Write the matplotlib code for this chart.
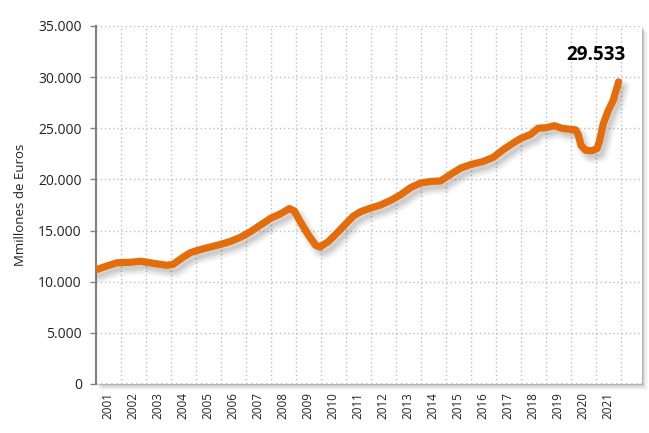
import matplotlib
matplotlib.use("Agg")
import matplotlib.pyplot as plt
import matplotlib.patheffects as pe
from matplotlib.patches import Rectangle
from matplotlib.ticker import FuncFormatter, MultipleLocator

# ---- data (decimal year, millions of euros) ----
years = [2001.0, 2001.4, 2001.85, 2002.4, 2002.8, 2003.3, 2003.85, 2004.1, 2004.5, 2004.8,
         2005.2, 2005.6, 2006.0, 2006.4, 2006.8, 2007.2, 2007.6, 2008.0, 2008.4, 2008.75,
         2008.95, 2009.2, 2009.5, 2009.8, 2009.97, 2010.3, 2010.65, 2011.0, 2011.3, 2011.6,
         2012.0, 2012.4, 2012.8, 2013.2, 2013.6, 2014.0, 2014.4, 2014.8, 2015.2, 2015.6,
         2016.0, 2016.5, 2016.9, 2017.3, 2017.7, 2018.0, 2018.4, 2018.7, 2019.0, 2019.35,
         2019.65, 2019.95, 2020.2, 2020.3, 2020.42, 2020.6, 2020.85, 2021.05, 2021.15, 2021.3,
         2021.5, 2021.7, 2021.92]
values = [11150, 11500, 11850, 11900, 12000, 11800, 11600, 11700, 12400, 12850,
          13150, 13400, 13650, 13950, 14350, 14900, 15550, 16200, 16650, 17150,
          16900, 15800, 14600, 13550, 13400, 13900, 14750, 15650, 16400, 16850,
          17200, 17500, 17950, 18500, 19200, 19650, 19800, 19850, 20500, 21100,
          21450, 21750, 22150, 22900, 23550, 24000, 24400, 25000, 25050, 25250,
          25000, 24900, 24850, 24400, 23300, 22850, 22800, 23000, 23700, 25400,
          26700, 27700, 29533]
year_labels = [str(y) for y in range(2001, 2022)]
last_label = "29.533"
y_label = "Mmillones de Euros"

plt.rcParams['font.family'] = ['Open Sans', 'DejaVu Sans']

fig = plt.figure(figsize=(6.49, 4.33), dpi=100)
ax = fig.add_axes([0.1475, 0.1132, 0.8415, 0.8268])
ax.set_facecolor('white')

# plot-area drop shadow
for i, a in enumerate([0.12, 0.09, 0.06, 0.04, 0.02]):
    d = (i + 1) * 1.2
    fig.patches.append(Rectangle((0.1475 + d / 649, 0.1132 - d / 433), 0.8415, 0.8268,
                                 transform=fig.transFigure, facecolor='black', alpha=a,
                                 edgecolor='none', zorder=-10))
ax.set_zorder(1)

xs = [y - 2001 for y in years]

line_color = '#E46C0A'
shadow_fx = [pe.SimpleLineShadow(offset=(3, -4), shadow_color='black', alpha=0.04, linewidth=11),
             pe.SimpleLineShadow(offset=(3, -4), shadow_color='black', alpha=0.05, linewidth=8),
             pe.SimpleLineShadow(offset=(3, -4), shadow_color='black', alpha=0.06, linewidth=5),
             pe.SimpleLineShadow(offset=(3, -4), shadow_color='black', alpha=0.06, linewidth=2.5),
             pe.Normal()]
ax.plot(xs, values, color=line_color, lw=5.2, solid_capstyle='round',
        solid_joinstyle='round', path_effects=shadow_fx, zorder=5)

ax.set_xlim(0, 21.85)
ax.set_ylim(0, 35000)

ax.yaxis.set_major_locator(MultipleLocator(5000))
ax.yaxis.set_major_formatter(FuncFormatter(lambda v, p: f"{int(v):,}".replace(",", ".")))
ax.set_xticks([i for i in range(1, 22)])
ax.set_xticklabels([])
ax.set_xticks([i + 0.5 for i in range(21)], minor=True)
ax.set_xticklabels(year_labels, minor=True, rotation=90, fontsize=8.4, color='#222222')
ax.tick_params(axis='x', which='both', length=0, pad=6)
ax.tick_params(axis='y', length=4, width=1, color='#808080', pad=6, labelsize=10,
               labelcolor='#222222')

ax.grid(True, which='major', axis='both', color='#BFBFBF', linestyle=(0, (1, 2)), lw=1)
ax.axhline(0, color='#BFBFBF', linestyle=(0, (1, 2)), lw=1.2, zorder=2)
for s in ['top', 'right', 'bottom']:
    ax.spines[s].set_visible(False)
ax.spines['left'].set_color('#808080')
ax.spines['left'].set_linewidth(1.5)

ax.set_ylabel(y_label, fontsize=9.5, color='#222222', labelpad=8)

ax.annotate(last_label, xy=(xs[-1], values[-1]), xytext=(-16, 19.5),
            textcoords='offset points', ha='center', va='center',
            fontsize=13.5, fontweight='bold', color='black')

fig.savefig('out.png', dpi=100)
